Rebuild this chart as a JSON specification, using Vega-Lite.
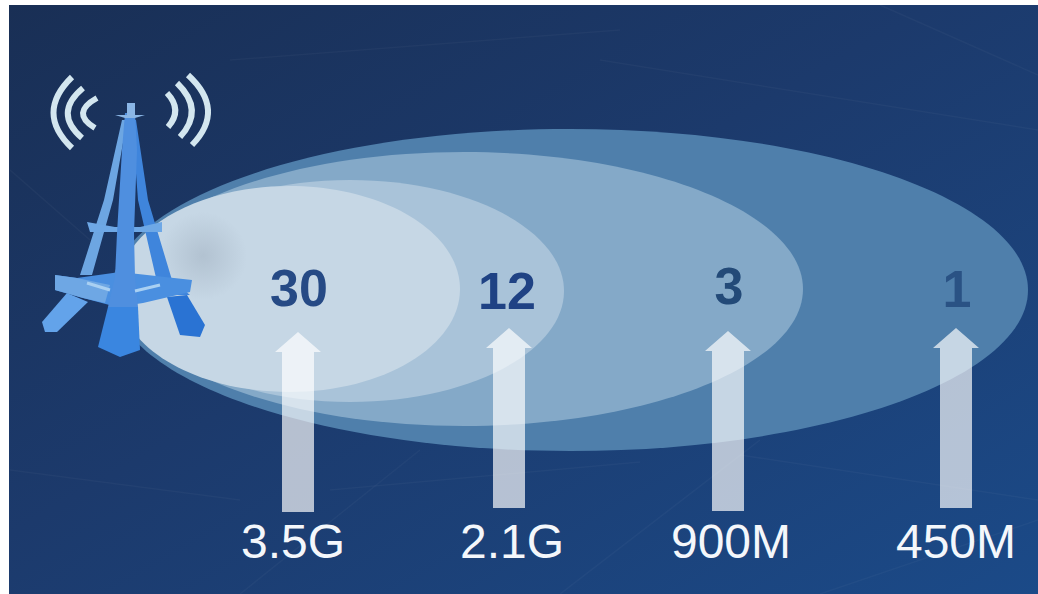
{
"$schema":"https://vega.github.io/schema/vega-lite/v6.json",
"width":1038,"height":594,"padding":0,
"autosize":{"type":"none"},
"background":"#ffffff",
"view":{"stroke":null},
"datasets":{
 "bands":[
  {"band":"3.5G","sites":30,"arrowX":298,"arrowY":422,"valueX":299,"valueY":290,"labelX":293,"labelY":544},
  {"band":"2.1G","sites":12,"arrowX":509,"arrowY":418,"valueX":507,"valueY":293,"labelX":512,"labelY":544},
  {"band":"900M","sites":3,"arrowX":728,"arrowY":421,"valueX":729,"valueY":288,"labelX":731,"labelY":544},
  {"band":"450M","sites":1,"arrowX":956,"arrowY":418,"valueX":957,"valueY":291,"labelX":956,"labelY":544}
 ],
 "tower":[{"name":"base station","x":130,"y":235}],
 "streaks":[
  {"id":1,"x":10,"y":470},{"id":1,"x":240,"y":500},
  {"id":2,"x":330,"y":490},{"id":2,"x":640,"y":462},
  {"id":3,"x":560,"y":594},{"id":3,"x":760,"y":440},
  {"id":4,"x":740,"y":455},{"id":4,"x":1038,"y":500},
  {"id":5,"x":820,"y":594},{"id":5,"x":1038,"y":520},
  {"id":6,"x":600,"y":60},{"id":6,"x":1038,"y":130},
  {"id":7,"x":880,"y":5},{"id":7,"x":1038,"y":75},
  {"id":8,"x":10,"y":170},{"id":8,"x":90,"y":240},
  {"id":9,"x":240,"y":594},{"id":9,"x":420,"y":450},
  {"id":10,"x":230,"y":60},{"id":10,"x":620,"y":30}
 ]
},
"encoding":{
 "x":{"field":"x","type":"quantitative","axis":null,"scale":{"domain":[0,1038],"nice":false,"zero":false}},
 "y":{"field":"y","type":"quantitative","axis":null,"scale":{"domain":[594,0],"nice":false,"zero":false}}
},
"layer":[
 {"data":{"values":[{"x":9,"x2":1038,"y":5,"y2":594}]},
  "mark":{"type":"rect","fill":{"gradient":"linear","x1":0,"y1":0,"x2":1,"y2":1,"stops":[{"offset":0,"color":"#192f55"},{"offset":0.45,"color":"#1c3a6c"},{"offset":1,"color":"#1b4a88"}]}},
  "encoding":{"x2":{"field":"x2"},"y2":{"field":"y2"}}},
 {"data":{"name":"streaks"},
  "mark":{"type":"line","stroke":"#ffffff","strokeWidth":1.5,"opacity":0.03},
  "encoding":{"detail":{"field":"id"}}},

 {"data":{"values":[{"band":"450M","x":570,"y":290}]},
  "mark":{"type":"point","filled":true,"opacity":1,"fill":"#4f7fab","size":4,"shape":"M-458,0A458,161 0 1,1 458,0A458,161 0 1,1 -458,0Z"}},
 {"data":{"values":[{"band":"900M","x":464,"y":289}]},
  "mark":{"type":"point","filled":true,"opacity":1,"fill":"#84a9c8","size":4,"shape":"M-339,0A339,137 0 1,1 339,0A339,137 0 1,1 -339,0Z"}},
 {"data":{"values":[{"band":"2.1G","x":350,"y":291}]},
  "mark":{"type":"point","filled":true,"opacity":1,"fill":"#a9c3d9","size":4,"shape":"M-214,0A214,111 0 1,1 214,0A214,111 0 1,1 -214,0Z"}},
 {"data":{"values":[{"band":"3.5G","x":289,"y":289}]},
  "mark":{"type":"point","filled":true,"opacity":1,"fill":"#c6d7e5","size":4,"shape":"M-171,0A171,103 0 1,1 171,0A171,103 0 1,1 -171,0Z"}},

 {"data":{"values":[{"name":"tower shade","x":203,"y":256}]},
  "mark":{"type":"point","filled":true,"opacity":1,"size":4,
   "fill":{"gradient":"radial","x1":0.5,"y1":0.5,"r1":0,"x2":0.5,"y2":0.5,"r2":0.5,"stops":[{"offset":0,"color":"#b2c2d1"},{"offset":1,"color":"#c6d7e5"}]},
   "shape":"M-44,0A44,44 0 1,1 44,0A44,44 0 1,1 -44,0Z"}},

 {"data":{"name":"tower"},"mark":{"type":"point","filled":false,"opacity":1,"size":4,"stroke":"#d3e6ef","strokeWidth":6,
   "shape":"M-58,-158Q-95,-122 -58,-87M-47,-147Q-77,-122 -48,-97M-33,-137Q-60,-122 -35,-107M37,-142Q53,-125 38,-108M47,-152Q75,-125 50,-98M58,-160Q96,-125 62,-90"}},

 {"data":{"name":"tower"},"mark":{"type":"point","filled":true,"opacity":1,"size":4,"fill":"#3f85dc",
   "shape":"M2,-115L6,-115L18,-35L42,45L60,60L30,60L8,-35Z"}},
 {"data":{"name":"tower"},"mark":{"type":"point","filled":true,"opacity":1,"size":4,"fill":"#6da6e2",
   "shape":"M-8,-115L-3,-115L-17,-35L-38,40L-50,40L-26,-35Z"}},
 {"data":{"name":"tower"},"mark":{"type":"point","filled":true,"opacity":1,"size":4,"fill":"#2a73d3",
   "shape":"M37,62L57,60L75,90L70,102L50,100Z"}},
 {"data":{"name":"tower"},"mark":{"type":"point","filled":true,"opacity":1,"size":4,"fill":"#63a3ea",
   "shape":"M-63,58L-42,67L-73,97L-85,97L-88,87Z"}},
 {"data":{"name":"tower"},"mark":{"type":"point","filled":true,"opacity":1,"size":4,"fill":"#6ea8e6",
   "shape":"M-43,-13L-15,-8L10,-8L32,-13L32,-3L10,-3L-17,-3L-40,-3Z"}},
 {"data":{"name":"tower"},"mark":{"type":"point","filled":true,"opacity":1,"size":4,"fill":"#4a8fe0",
   "shape":"M-75,40L-53,43L-10,37L62,45L60,57L13,68L-13,72L-47,63L-75,55Z"}},
 {"data":{"name":"tower"},"mark":{"type":"point","filled":true,"opacity":1,"size":4,"fill":"#6ea7e4",
   "shape":"M-75,40L-53,43L-20,50L-25,68L-47,63L-75,55Z"}},
 {"data":{"name":"tower"},"mark":{"type":"point","filled":true,"opacity":1,"size":4,"fill":"#4f8fdf",
   "shape":"M-5,-122L5,-122L7,-85L4,-2L5,42L8,72L-22,72L-15,42L-13,-2L-8,-85Z"}},
 {"data":{"name":"tower"},"mark":{"type":"point","filled":true,"opacity":1,"size":4,"fill":"#3a86e0",
   "shape":"M-22,72L8,72L10,115L-10,122L-32,112Z"}},
 {"data":{"name":"tower"},"mark":{"type":"point","filled":false,"opacity":1,"size":4,"stroke":"#a9d0f2","strokeWidth":3,
   "shape":"M-43,48L-20,55M5,56L30,50"}},
 {"data":{"name":"tower"},"mark":{"type":"point","filled":true,"opacity":1,"size":4,"fill":"#8ab6e6",
   "shape":"M-3,-132L5,-132L5,-120L15,-120L5,-117L-5,-117L-15,-120L-3,-120Z"}},

 {"data":{"name":"bands"},
  "mark":{"type":"point","filled":true,"opacity":0.68,"fill":"#ffffff","size":4,
   "shape":"M0,-90L23,-70L16,-70L16,90L-16,90L-16,-70L-23,-70Z"},
  "encoding":{"x":{"field":"arrowX","type":"quantitative"},"y":{"field":"arrowY","type":"quantitative"}}},
 {"data":{"name":"bands"},
  "mark":{"type":"text","font":"Liberation Sans","fontWeight":"bold","fontSize":52,"align":"center","baseline":"middle"},
  "encoding":{"x":{"field":"valueX","type":"quantitative"},"y":{"field":"valueY","type":"quantitative"},"text":{"field":"sites","type":"quantitative"},
   "color":{"field":"band","type":"nominal","legend":null,"scale":{"domain":["3.5G","2.1G","900M","450M"],"range":["#264a85","#1f4284","#234a78","#2a5284"]}}}},
 {"data":{"name":"bands"},
  "mark":{"type":"text","font":"Liberation Sans","fontSize":48,"align":"center","baseline":"middle","fill":"#f4f7fb"},
  "encoding":{"x":{"field":"labelX","type":"quantitative"},"y":{"field":"labelY","type":"quantitative"},"text":{"field":"band","type":"nominal"}}}
]
}
